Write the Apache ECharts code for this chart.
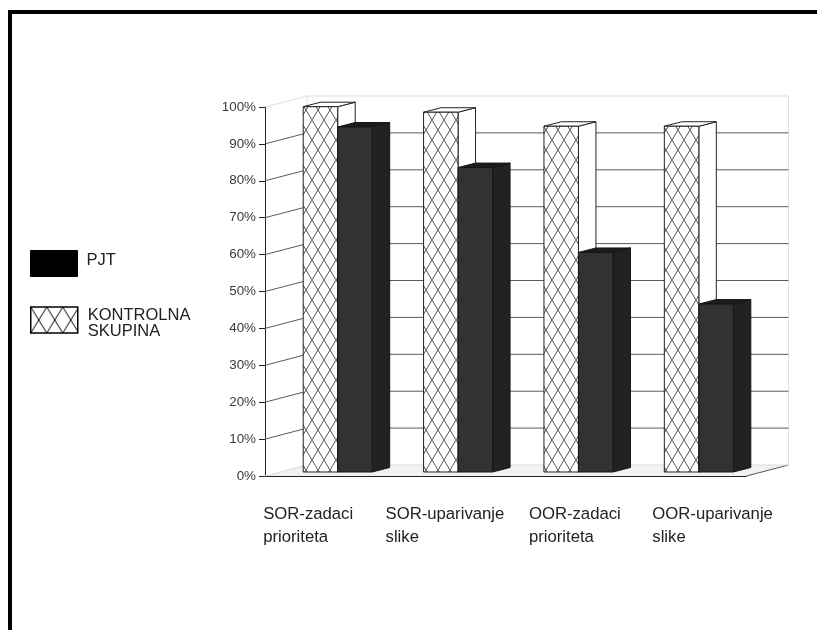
<!DOCTYPE html>
<html>
<head>
<meta charset="utf-8">
<style>html,body{margin:0;padding:0;background:#fff}#chart{width:817px;height:630px}</style>
<script src="https://cdn.jsdelivr.net/npm/echarts@6/dist/echarts.min.js"></script>
</head>
<body>
<div id="chart"></div>
<script>
const categories = ['SOR-zadaci\nprioriteta', 'SOR-uparivanje\nslike', 'OOR-zadaci\nprioriteta', 'OOR-uparivanje\nslike'];
const kontrolna = [99, 97.5, 93.7, 93.7];
const pjt = [93.5, 82.5, 59.5, 45.5];
const yTicks = [0, 10, 20, 30, 40, 50, 60, 70, 80, 90, 100];
const labelShifts = [58, 60, 83, 86];

const NAME_PJT = 'PJT';
const NAME_CTRL = 'KONTROLNA\nSKUPINA';

// Diagonal lattice used as the fill of the control-group bars
function lattice(w, h, ink) {
  const c = document.createElement('canvas');
  c.width = w; c.height = h;
  const g = c.getContext('2d');
  g.fillStyle = '#fff';
  g.fillRect(0, 0, w, h);
  g.strokeStyle = ink;
  g.lineWidth = 1;
  g.beginPath();
  g.moveTo(0, 0); g.lineTo(w, h);
  g.moveTo(w, 0); g.lineTo(0, h);
  g.stroke();
  return { image: c, repeat: 'repeat' };
}
const barLattice = lattice(12, 20, '#555');
const keyLattice = lattice(16, 26, '#000');

// Depth of the 3D box: wall sits behind the axis plane, bars part-way in
const WALL_DX = 42, WALL_DY = -11;
const BAR_W = 34.5, BAR_DX = 17.5, BAR_DY = -4.5, BAR_FRONT_DY = -4, GROUP_DX = 12.5;

function poly(points, fill, stroke, lineWidth) {
  return { type: 'polygon', shape: { points }, style: { fill, stroke, lineWidth: lineWidth || 1 } };
}
function line(points, stroke) {
  return { type: 'polyline', shape: { points }, style: { fill: 'none', stroke, lineWidth: 1 } };
}

// Back wall, floor and receding grid lines for one tick value
function renderWall(params, api) {
  const band = api.size([1, 0])[0];
  const v = api.value(1);
  const p = api.coord([0, v]);
  const x0 = p[0] - band / 2, y = p[1];
  const x1 = x0 + band * categories.length;
  const bx = x0 + WALL_DX, by = y + WALL_DY;
  const edge = v === 0 || v === 100;
  const ink = edge ? '#dcdcdc' : '#5a5a5a';
  const children = [];
  if (v === 0) {
    children.push(poly([[x0, y], [x1, y], [x1 + WALL_DX, by], [bx, by]], '#f1f1f1', 'none'));
    children.push(line([[x1, y], [x1 + WALL_DX, by]], '#555'));
    const top = api.coord([0, 100])[1] + WALL_DY;
    children.push(line([[bx, by], [bx, top]], '#e2e2e2'));
    children.push(line([[x1 + WALL_DX, by], [x1 + WALL_DX, top]], '#e2e2e2'));
  }
  children.push(line([[x0, y], [bx, by], [x1 + WALL_DX, by]], ink));
  return { type: 'group', children };
}

// A 3D bar: front, side and top faces placed from the value scale
function barRenderer(slot, front, side, top, edge) {
  return function (params, api) {
    const head = api.coord([api.value(0), api.value(1)]);
    const foot = api.coord([api.value(0), 0]);
    const xl = head[0] + GROUP_DX + (slot - 1) * BAR_W;
    const xr = xl + BAR_W;
    const yt = head[1] + BAR_FRONT_DY;
    const yb = foot[1] + BAR_FRONT_DY;
    return {
      type: 'group',
      children: [
        poly([[xr, yt], [xr + BAR_DX, yt + BAR_DY], [xr + BAR_DX, yb + BAR_DY], [xr, yb]], side, edge),
        poly([[xl, yt], [xl + BAR_DX, yt + BAR_DY], [xr + BAR_DX, yt + BAR_DY], [xr, yt]], top, edge),
        poly([[xl, yt], [xr, yt], [xr, yb], [xl, yb]], front, edge)
      ]
    };
  };
}

const labelRich = {};
labelShifts.forEach((s, i) => {
  labelRich['c' + i] = { align: 'left', padding: [0, 0, 0, s], fontSize: 16.7, lineHeight: 23, color: '#222', fontFamily: 'Liberation Sans' };
});

const keyText = { fontSize: 16.5, height: 23, lineHeight: 23, color: '#222', fontFamily: 'Liberation Sans' };

const chart = echarts.init(document.getElementById('chart'), null, { renderer: 'canvas' });
chart.setOption({
  animation: false,
  backgroundColor: '#fff',
  textStyle: { fontFamily: 'Liberation Sans' },
  grid: { left: 265, top: 107, width: 481.5, height: 369, containLabel: false },
  xAxis: {
    type: 'category',
    data: categories,
    axisLine: { lineStyle: { color: '#222' } },
    axisTick: { length: 6, lineStyle: { color: '#222' } },
    axisLabel: {
      interval: 0,
      margin: 27,
      width: 240,
      overflow: 'none',
      formatter: function (value, index) {
        return value.split('\n').map(t => '{c' + index + '|' + t + '}').join('\n');
      },
      rich: labelRich
    }
  },
  yAxis: {
    type: 'value',
    min: 0,
    max: 100,
    interval: 10,
    axisLine: { show: true, lineStyle: { color: '#222' } },
    axisTick: { show: true, length: 6, lineStyle: { color: '#222' } },
    axisLabel: { margin: 9, fontSize: 13.4, color: '#3a3a3a', formatter: '{value}%' },
    splitLine: { show: false }
  },
  legend: [
    {
      left: 25, top: 245, itemWidth: 47, itemHeight: 26, selectedMode: false,
      formatter: name => '{k|' + name + '}',
      textStyle: { rich: { k: Object.assign({}, keyText, { height: 18, padding: [0, 0, 7, 4] }) } },
      data: [{ name: NAME_PJT, icon: 'rect', itemStyle: { color: '#000', borderColor: '#000', borderWidth: 1 } }]
    },
    {
      left: 25, top: 285, itemWidth: 47, itemHeight: 26, selectedMode: false,
      formatter: name => name.split('\n').map((t, i) => (i === 0 ? '{h|' : '{k|') + t + '}').join('\n'),
      textStyle: {
        rich: {
          h: Object.assign({ padding: [14, 0, 0, 5] }, keyText),
          k: Object.assign({ padding: [0, 0, 0, 5] }, keyText)
        }
      },
      data: [{ name: NAME_CTRL, icon: 'rect', itemStyle: { color: keyLattice, borderColor: '#000', borderWidth: 1.5 } }]
    }
  ],
  series: [
    {
      type: 'custom', name: 'zid', z: 1, silent: true, clip: false,
      data: yTicks.map(v => [0, v]),
      renderItem: renderWall
    },
    {
      type: 'custom', name: NAME_CTRL, z: 2, clip: false,
      data: kontrolna.map((v, i) => [i, v]),
      renderItem: barRenderer(0, barLattice, '#fff', '#fff', '#222')
    },
    {
      type: 'custom', name: NAME_PJT, z: 3, clip: false,
      data: pjt.map((v, i) => [i, v]),
      renderItem: barRenderer(1, '#323232', '#222222', '#1c1c1c', '#161616')
    }
  ],
  graphic: [
    { type: 'rect', silent: true, z: 10, shape: { x: 8, y: 10, width: 809, height: 4 }, style: { fill: '#000' } },
    { type: 'rect', silent: true, z: 10, shape: { x: 8, y: 10, width: 4, height: 620 }, style: { fill: '#000' } }
  ]
});
</script>
</body>
</html>
